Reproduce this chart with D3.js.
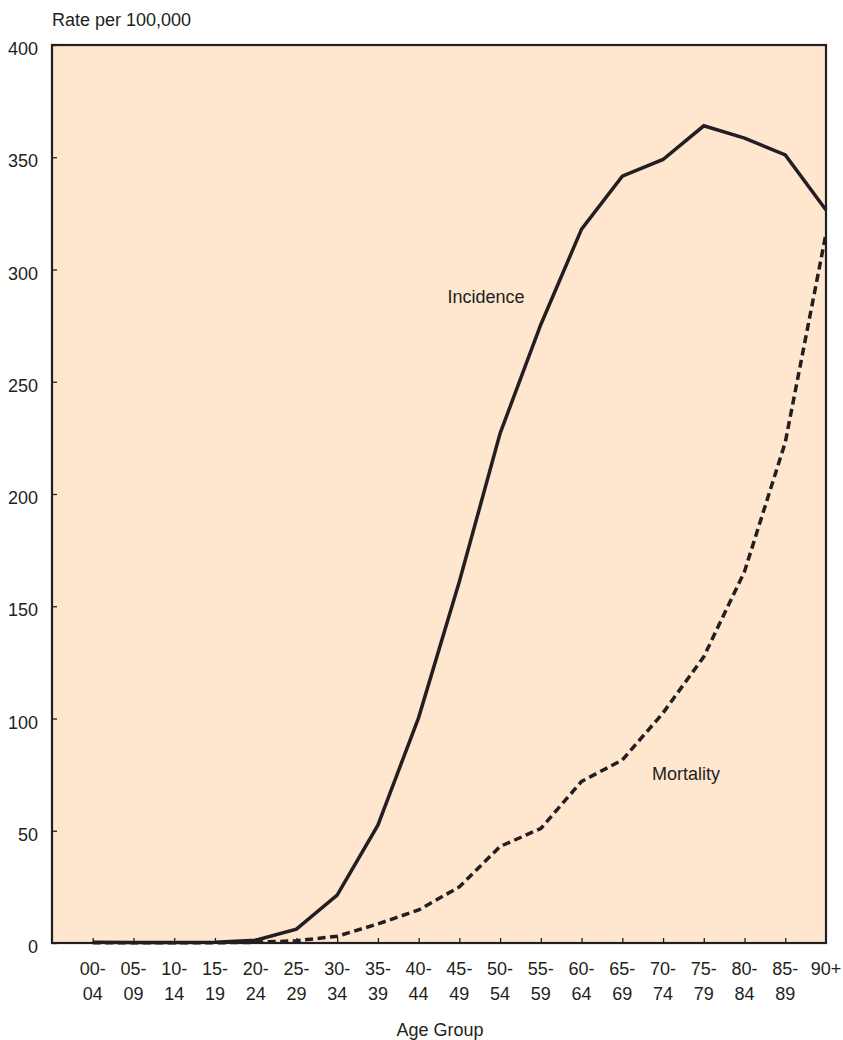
<!DOCTYPE html>
<html>
<head>
<meta charset="utf-8">
<script src="https://cdn.jsdelivr.net/npm/d3@7"></script>
<style>
  body { margin: 0; background: #fff; }
  text { font-family: "Liberation Sans Narrow", "Arial Narrow", "Liberation Sans", sans-serif; fill: #231f20; }
</style>
</head>
<body>
<svg id="chart" width="843" height="1040"></svg>
<script>
const ageGroups = ['00-04', '05-09', '10-14', '15-19', '20-24', '25-29', '30-34', '35-39', '40-44',
  '45-49', '50-54', '55-59', '60-64', '65-69', '70-74', '75-79', '80-84', '85-89', '90+'];
const incidence = [0.3, 0.2, 0.2, 0.3, 1.2, 6.2, 21.3, 52.5, 100.4, 161, 227, 275.5, 318, 341.6, 349, 364, 358.5, 351, 326.5];
const mortality = [0.1, 0.1, 0.1, 0.1, 0.3, 1, 3, 8.5, 14.7, 25, 43, 51, 72, 81.5, 102.5, 127.5, 165.5, 223, 316];
const yTicks = [0, 50, 100, 150, 200, 250, 300, 350, 400];

const svg = d3.select('#chart');
const plotLeft = 52, plotRight = 826, plotTop = 45, plotBottom = 943;
const ink = '#231f20';
const fontSize = 18;

// index -1 is the left edge of the frame, 90+ sits on the right edge
const x = d3.scaleLinear().domain([-1, ageGroups.length - 1]).range([plotLeft, plotRight]);
const y = d3.scaleLinear().domain([0, 400]).range([plotBottom, plotTop]);

svg.append('rect')
  .attr('x', plotLeft).attr('y', plotTop)
  .attr('width', plotRight - plotLeft).attr('height', plotBottom - plotTop)
  .attr('fill', '#fee6cf');

/*
 ** Lines
 */
const line = d3.line()
  .x((d, i) => x(i))
  .y(d => y(d));

svg.append('path')
  .datum(mortality)
  .attr('fill', 'none')
  .attr('stroke', ink)
  .attr('stroke-width', 3.5)
  .attr('stroke-dasharray', '8,4.5')
  .attr('d', line);

svg.append('path')
  .datum(incidence)
  .attr('fill', 'none')
  .attr('stroke', ink)
  .attr('stroke-width', 3.5)
  .attr('stroke-linejoin', 'miter')
  .attr('d', line);

/*
 ** Y-axis
 */
const yAxis = svg.append('g')
  .attr('transform', `translate(${plotLeft}, 0)`)
  .call(d3.axisRight(y).tickValues(yTicks).tickSize(5).tickFormat(''));
yAxis.select('.domain').remove();
yAxis.selectAll('line').attr('stroke', ink).attr('stroke-width', 1.3);

svg.append('g')
  .selectAll('text')
  .data(yTicks)
  .enter()
  .append('text')
  .attr('x', 38)
  .attr('y', d => y(d) + 10)
  .attr('text-anchor', 'end')
  .attr('font-size', fontSize)
  .text(d => d);

/*
 ** X-axis
 */
const xAxis = svg.append('g')
  .attr('transform', `translate(0, ${plotBottom})`)
  .call(d3.axisTop(x).tickValues(d3.range(ageGroups.length - 1)).tickSize(5).tickFormat(''));
xAxis.select('.domain').remove();
xAxis.selectAll('line').attr('stroke', ink).attr('stroke-width', 1.3);

const xLabels = svg.append('g')
  .selectAll('text')
  .data(ageGroups)
  .enter()
  .append('text')
  .attr('text-anchor', 'middle')
  .attr('font-size', fontSize);

xLabels.each(function (d, i) {
  const parts = d.indexOf('-') > 0 ? [d.slice(0, 3), d.slice(3)] : [d];
  const t = d3.select(this);
  parts.forEach((p, k) => {
    t.append('tspan')
      .attr('x', x(i))
      .attr('y', 975 + k * 25)
      .text(p);
  });
});

// frame on top
svg.append('rect')
  .attr('x', plotLeft).attr('y', plotTop)
  .attr('width', plotRight - plotLeft).attr('height', plotBottom - plotTop)
  .attr('fill', 'none')
  .attr('stroke', ink)
  .attr('stroke-width', 2.2);

/*
 ** Titles and labels
 */
svg.append('text').attr('x', 52).attr('y', 26).attr('font-size', fontSize).text('Rate per 100,000');
svg.append('text').attr('x', 440).attr('y', 1036).attr('text-anchor', 'middle').attr('font-size', fontSize).text('Age Group');
svg.append('text').attr('x', 486).attr('y', 303).attr('text-anchor', 'middle').attr('font-size', fontSize).text('Incidence');
svg.append('text').attr('x', 686).attr('y', 780).attr('text-anchor', 'middle').attr('font-size', fontSize).text('Mortality');
</script>
</body>
</html>
